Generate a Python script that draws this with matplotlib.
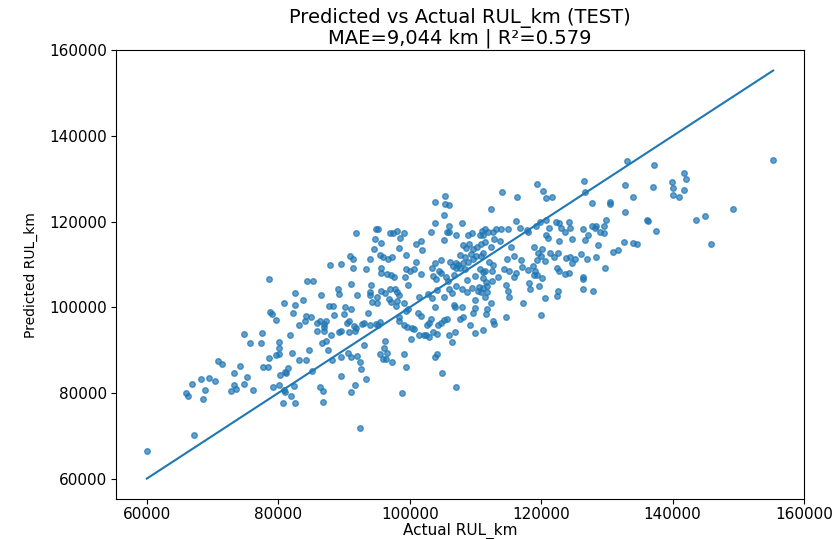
import matplotlib
matplotlib.use("Agg")
import matplotlib.pyplot as plt

# Test set: actual vs predicted remaining useful life (km)
actual_km = [
    # lower-left cluster
    78600, 82600, 80900, 82600, 82300, 78800, 79000, 79700,
    83100, 74800, 77500, 75700, 77300, 80100, 80100, 81800,
    82100, 70900, 71400, 74200, 78600, 79700, 80100, 77700,
    78400, 73200, 75200, 80200, 81000, 81500, 81200, 83200,
    66800, 68300, 69400, 70300, 66000, 66300, 68800, 68600,
    73300, 72800, 73500, 74800, 76100, 79200, 80100, 80900,
    81000, 81900, 82400, 80700, 82600, 67200, 60000,
    # 84k-107k, upper half
    105300, 103800, 105400, 106000, 105200, 103800, 106000, 91900,
    94900, 95100, 97000, 97400, 98100, 99100, 98500, 94700,
    95700, 103300, 105600, 106000, 107100, 105200, 101000, 101700,
    101900, 94600, 98300, 90900, 91400, 87900, 89500, 91300,
    93300, 94000, 95500, 96000, 96700, 97300, 95700, 95700,
    96500, 97100, 97600, 99400, 99400, 100000, 100700, 101000,
    99300, 99700, 101700, 103400, 103800, 104700, 104400, 104800,
    104000, 103600, 105500, 106200, 107000, 106600, 107300, 107100,
    106700, 105900, 107100, 84400, 85300, 86500, 89100, 89300,
    91100, 92000, 93900, 93900, 94100, 95000, 94200, 95000,
    95700, 96200, 97000, 97700, 98100, 98300, 97100, 96900,
    98100, 99200, 97900, 99700, 101400, 102800, 104100, 103400,
    103800, 105200, 106000, 106400, 106700, 106900, 83700, 87700,
    88400, 90100, 91000,
    # 84k-107k, lower half
    84200, 85000, 84000, 85900, 86400, 86900, 87200, 85900,
    87000, 87000, 88500, 90000, 89200, 89500, 88000, 90500,
    90800, 91500, 91800, 90700, 91600, 92700, 93100, 93900,
    93700, 94800, 95100, 95500, 98400, 99500, 98400, 99200,
    99600, 100300, 100700, 100200, 101300, 101700, 102900, 103300,
    102700, 104300, 104700, 105200, 105600, 101400, 102100, 102500,
    103000, 103600, 104200, 106000, 106400, 106900, 84200, 84700,
    85100, 86700, 87300, 87600, 88100, 89600, 90600, 91000,
    92000, 92400, 92600, 93000, 89500, 93400, 91700, 86300,
    86800, 91100, 86800, 95500, 96100, 96600, 96000, 96400,
    97300, 99100, 99400, 98900, 92400, 103800, 104200, 104900,
    107100, 96300,
    # 107k-132k, upper half
    119400, 126500, 126600, 114100, 116300, 120300, 120700, 121600,
    127800, 130400, 130400, 112400, 108000, 116100, 119800, 119200,
    117800, 118000, 116800, 115000, 113900, 112700, 113200, 111000,
    111500, 111900, 110700, 111200, 109500, 108900, 112900, 113700,
    120800, 120800, 121000, 122300, 122700, 123000, 121200, 124200,
    123600, 124400, 126300, 127800, 128200, 128400, 129500, 129800,
    128900, 129600, 122700, 124700, 126700, 128600, 127200, 115400,
    108100, 108600, 109000, 109700, 110200, 110900, 111400, 112400,
    107600, 108400, 109300, 109700, 110100, 110800, 111200, 108100,
    108800, 108400, 107600, 112000, 110700, 111200, 111500, 112500,
    112700, 114800, 115800, 116900, 114300, 115100, 118900, 119500,
    120200, 119900, 121300, 120600, 119400, 122500, 121900, 123800,
    124400, 125200, 124700, 126000, 126900, 128300, 129700, 131000,
    131700, 117100, 118000, 118800, 119100, 118900, 119400, 120200,
    122400, 122700, 123600, 124300, 126300, 126400, 116200, 115800,
    113500, 114700, 109900, 108700, 111200, 111600, 112500, 110600,
    111200, 111700, 110400, 110800, 111700, 111400, 110000, 107900,
    108700, 109500, 112400, 111700, 114900, 117300, 118300, 119600,
    118200, 120600, 122400, 122600, 126400, 127900, 115100, 107900,
    110000,
    # 107k-120k, lower half
    108100, 107600, 109700, 111600, 112600, 112900, 114600, 109200,
    111100, 110000, 120000,
    # right tail
    133000, 137200, 155300, 141800, 142000, 139900, 140100, 132800,
    137000, 141800, 140000, 140900, 133900, 149200, 132800, 136100,
    136300, 143500, 145000, 137500, 132600, 134000, 134600, 145900,
]

predicted_km = [
    # lower-left cluster
    106700, 103300, 101100, 100500, 98700, 98900, 98400, 97000,
    95800, 93800, 94100, 91600, 91700, 91900, 90600, 93500,
    89400, 87400, 86800, 86400, 88200, 88900, 89100, 86100,
    86100, 84600, 83800, 84300, 84900, 85800, 84700, 87800,
    82200, 83200, 83500, 82700, 80100, 79300, 80800, 78700,
    81900, 80500, 81000, 82200, 80700, 81300, 81900, 80700,
    80200, 79400, 81600, 77700, 77700, 70100, 66400,
    # 84k-107k, upper half
    126000, 124600, 124100, 123900, 121600, 119700, 119100, 117300,
    118200, 118300, 117300, 117300, 117900, 117400, 116200, 115900,
    115100, 117700, 117700, 117600, 116800, 115700, 114900, 115400,
    113500, 113700, 113800, 112000, 111200, 109900, 110100, 109300,
    109000, 111200, 112300, 111700, 111300, 111700, 109300, 107900,
    107800, 107500, 107100, 112300, 108900, 108500, 108900, 110700,
    107000, 105300, 107800, 109200, 110300, 111000, 108500, 107900,
    106500, 107300, 107000, 110600, 110400, 109600, 109800, 109200,
    107600, 106100, 105000, 106100, 106100, 102900, 104200, 103100,
    105400, 102800, 102800, 103600, 105300, 102300, 101200, 101100,
    103700, 103400, 104200, 104200, 103600, 102900, 101200, 102000,
    101400, 100900, 100300, 99700, 102300, 103100, 104000, 102200,
    100100, 102500, 104300, 103400, 100600, 100100, 101700, 100300,
    100300, 100100, 99700,
    # 84k-107k, lower half
    98000, 97800, 96900, 96400, 96700, 96100, 96700, 94400,
    95300, 94400, 98300, 98400, 94200, 94400, 93600, 96400,
    96900, 95600, 95200, 94200, 94400, 96100, 96400, 95800,
    98700, 96200, 95800, 96600, 97800, 99200, 96700, 95900,
    95300, 95200, 94900, 92700, 98700, 98000, 96400, 97200,
    95900, 95900, 96400, 97000, 97300, 93600, 93500, 93600,
    93100, 94200, 93800, 93500, 91900, 94200, 87800, 90000,
    85200, 91700, 92200, 90000, 87700, 88500, 89400, 88300,
    88600, 87200, 85500, 91100, 84000, 83300, 81800, 81300,
    80500, 80200, 77900, 89100, 90500, 89400, 88000, 88000,
    87200, 89100, 86100, 80100, 71800, 88500, 89100, 84600,
    81500, 92200,
    # 107k-132k, upper half
    128800, 129400, 126900, 126900, 125700, 127100, 125500, 125700,
    124400, 124700, 124100, 122900, 119600, 120200, 119900, 119100,
    118000, 117700, 118500, 118200, 118300, 117700, 118200, 117900,
    118200, 117700, 116900, 116800, 117400, 116900, 115900, 115400,
    120400, 116900, 116300, 119900, 119600, 118500, 118500, 119900,
    117700, 118500, 118300, 119100, 118500, 119000, 119100, 120500,
    117700, 117400, 115400, 115900, 115700, 114600, 116900, 114100,
    114500, 113800, 114900, 113700, 114100, 114800, 115200, 114100,
    112300, 111800, 112400, 111300, 112000, 112100, 112700, 110400,
    110700, 109000, 109200, 110600, 108900, 108200, 108400, 108400,
    109900, 111200, 112100, 111000, 109000, 108500, 114100, 112600,
    113700, 112000, 112700, 110900, 111000, 112600, 111800, 111500,
    111800, 111300, 110400, 112400, 111200, 111700, 109300, 112900,
    113400, 109500, 108700, 109600, 108500, 107600, 107500, 106800,
    109200, 108500, 107800, 107900, 107100, 106500, 108000, 107100,
    107100, 105300, 107300, 106400, 106800, 105900, 106100, 104800,
    104500, 105000, 103900, 103600, 103600, 102500, 101700, 104200,
    103600, 104500, 100900, 99500, 103700, 101100, 104200, 105000,
    105700, 102200, 102600, 103700, 104200, 103700, 102500, 100000,
    99800,
    # 107k-120k, lower half
    97700, 97200, 98700, 98400, 96900, 96200, 97700, 95900,
    94700, 93900, 98100,
    # right tail
    134100, 133300, 134500, 131400, 130000, 129200, 127800, 128600,
    128000, 127400, 126300, 125800, 125800, 123000, 122200, 120400,
    120200, 120500, 121300, 117900, 115200, 115100, 114800, 114900,
]

title_lines = ["Predicted vs Actual RUL_km (TEST)", "MAE=9,044 km | R\u00b2=0.579"]

fig, ax = plt.subplots(figsize=(8.34, 5.39), dpi=100)
fig.subplots_adjust(left=0.1385, right=0.9646, bottom=0.0742, top=0.907)

ax.scatter(actual_km, predicted_km, s=16, alpha=0.7)

# identity line across the full range of both series
lo = min(min(actual_km), min(predicted_km))
hi = max(max(actual_km), max(predicted_km))
ax.plot([lo, hi], [lo, hi])

ax.set_title("\n".join(title_lines), fontsize=14, linespacing=1.0, pad=5)
ax.set_xlabel("Actual RUL_km", fontsize=11, labelpad=0)
ax.set_ylabel("Predicted RUL_km", fontsize=10, labelpad=8)
ax.tick_params(labelsize=11, pad=2.5)

fig.savefig("out.png", dpi=100)
